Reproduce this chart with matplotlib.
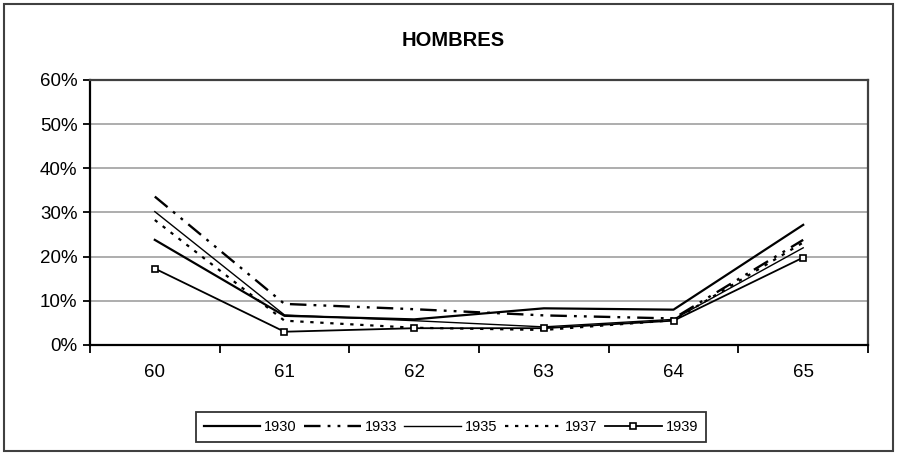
import matplotlib.pyplot as plt
from matplotlib.patches import Rectangle
from matplotlib.ticker import FixedLocator, PercentFormatter

plt.rcParams["font.family"] = ["Liberation Sans", "DejaVu Sans"]

# edades y porcentajes por año
edades = ["60", "61", "62", "63", "64", "65"]
anios = ["1930", "1933", "1935", "1937", "1939"]

p1930 = [23.8, 6.6, 5.8, 8.3, 8.0, 27.2]
p1933 = [33.6, 9.3, 8.1, 6.7, 6.0, 23.8]
p1935 = [30.2, 6.8, 5.5, 4.1, 5.8, 22.0]
p1937 = [28.3, 5.5, 3.9, 3.4, 5.6, 23.2]
p1939 = [17.3, 3.0, 3.8, 3.8, 5.5, 19.8]

fig = plt.figure(figsize=(8.97, 4.55), dpi=100)
ax = fig.add_axes([0.1003, 0.2418, 0.8674, 0.5824])

x = list(range(len(edades)))
ax.plot(x, p1930, color="black", lw=1.6, label=anios[0])
ax.plot(x, p1933, color="black", lw=1.7, linestyle=(0, (7, 3, 1.2, 3, 1.2, 3)), label=anios[1])
ax.plot(x, p1935, color="black", lw=1.0, label=anios[2])
ax.plot(x, p1937, color="black", lw=1.6, linestyle=(0, (1.5, 3)), label=anios[3])
ax.plot(x, p1939, color="black", lw=1.3, marker="s", markersize=5,
        markerfacecolor="white", markeredgecolor="black", markeredgewidth=1.2, label=anios[4])

ax.set_xlim(-0.5, 5.5)
ax.set_ylim(0, 60)
ax.set_yticks([0, 10, 20, 30, 40, 50, 60])
ax.yaxis.set_major_formatter(PercentFormatter(decimals=0))
ax.grid(axis="y", color="#a0a0a0", lw=1.2)
ax.set_axisbelow(True)

# ticks en los límites de categoría, etiquetas centradas
ax.xaxis.set_major_locator(FixedLocator([i - 0.5 for i in range(len(edades) + 1)]))
ax.xaxis.set_minor_locator(FixedLocator(x))
ax.set_xticklabels([])
ax.set_xticklabels(edades, minor=True)
ax.tick_params(axis="x", which="major", direction="out", length=6, width=1.3, color="black")
ax.tick_params(axis="x", which="minor", length=0, pad=14, labelsize=13.5)
ax.tick_params(axis="y", direction="out", length=5, width=1.3, labelsize=13.5, pad=4)

for s in ["left", "bottom"]:
    ax.spines[s].set_color("black")
    ax.spines[s].set_linewidth(1.6)
for s in ["top", "right"]:
    ax.spines[s].set_color("#404040")
    ax.spines[s].set_linewidth(1.6)

fig.text(0.505, 0.91, "HOMBRES", ha="center", va="center", fontsize=14.5, fontweight="bold")

leg = fig.legend(loc="center", bbox_to_anchor=(0.5025, 0.062), ncol=5, frameon=True,
                 fancybox=False, edgecolor="black", handlelength=3.9, columnspacing=0.5,
                 handletextpad=0.25, borderpad=0.55, fontsize=10.5)
leg.get_frame().set_linewidth(1.3)

fig.patches.append(Rectangle((0.005, 0.008), 0.99, 0.984, transform=fig.transFigure,
                             fill=False, edgecolor="#404040", lw=1.5))

fig.savefig("out.png", dpi=100)
